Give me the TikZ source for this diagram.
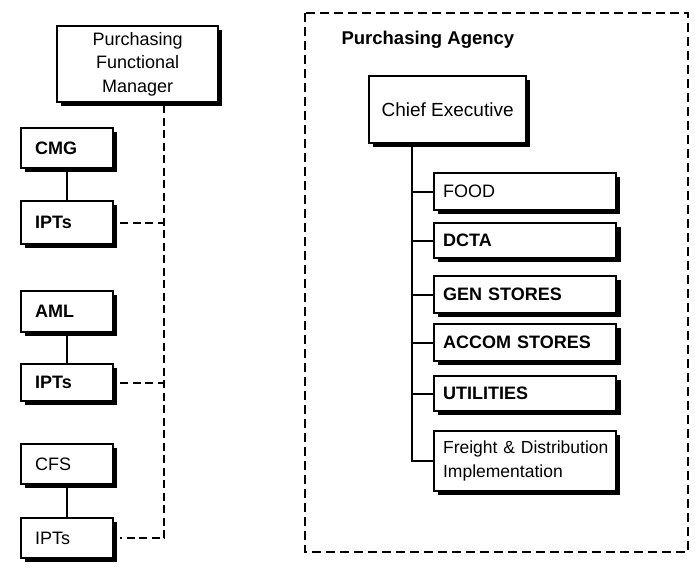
\documentclass[tikz,border=0pt]{standalone}
\usepackage{fontspec}
\setmainfont{Liberation Sans}
\usetikzlibrary{shadows}

\begin{document}
\begin{tikzpicture}[x=1pt,y=-1pt,
  font=\fontsize{18}{23.5}\selectfont,
  box/.style={draw, rectangle, line width=2.2pt, fill=white, anchor=north west,
    inner ysep=0pt,
    drop shadow={shadow xshift=3.5pt, shadow yshift=-3.5pt, fill=black, opacity=1}},
  heavybox/.style={box,
    drop shadow={shadow xshift=5pt, shadow yshift=-4pt, fill=black, opacity=1}},
  unitbox/.style={box, inner xsep=14pt, text width=64pt, align=left},
  listbox/.style={box, inner xsep=9pt, text width=164pt, align=left},
  link/.style={line width=1.8pt},
  dashlink/.style={line width=2pt, dash pattern=on 8pt off 4.5pt},
  frame/.style={line width=1.8pt, dash pattern=on 9pt off 5pt}
]
\useasboundingbox (0,0) rectangle (695,574);

% ---- functional side ----
\node[box, minimum width=161pt, minimum height=76pt, align=center, inner xsep=4pt]
  (pfm) at (56,25) {Purchasing\\Functional\\Manager};

\node[unitbox, minimum height=40pt, font=\fontsize{18}{22}\selectfont\bfseries] (cmg)  at (20,127) {CMG};
\node[unitbox, minimum height=43pt, font=\fontsize{18}{22}\selectfont\bfseries] (ipt1) at (20,200) {IPTs};
\node[unitbox, minimum height=41pt, font=\fontsize{18}{22}\selectfont\bfseries] (aml)  at (20,290) {AML};
\node[unitbox, minimum height=37pt, font=\fontsize{18}{22}\selectfont\bfseries] (ipt2) at (20,363) {IPTs};
\node[unitbox, minimum height=40pt] (cfs)  at (20,443) {CFS};
\node[unitbox, minimum height=40pt] (ipt3) at (20,517) {IPTs};

\draw[link] (cmg.south) -- (cmg.south |- ipt1.north);
\draw[link] (aml.south) -- (aml.south |- ipt2.north);
\draw[link] (cfs.south) -- (cfs.south |- ipt3.north);

\coordinate (tap) at ([xshift=26.5pt, yshift=-2pt]pfm.south);
\draw[dashlink] (tap) |- ([xshift=6pt]ipt3.east);
\draw[dashlink] ([xshift=6pt]ipt1.east) -- (ipt1.east -| tap);
\draw[dashlink] ([xshift=6pt]ipt2.east) -- (ipt2.east -| tap);

% ---- agency side ----
\draw[frame] (305,13) rectangle (688,552);
\node[anchor=west, font=\fontsize{18.5}{22}\selectfont\bfseries] (agency) at (338,40) {Purchasing Agency};

\node[box, minimum width=157pt, minimum height=67pt, font=\fontsize{19}{23}\selectfont]
  (ce) at (368,75) {Chief Executive};

\node[listbox,   minimum height=37pt] (food)  at (433,172) {FOOD};
\node[heavybox, listbox, minimum height=35pt, font=\fontsize{18}{22}\selectfont\bfseries] (dcta)  at (433,222) {DCTA};
\node[heavybox, listbox, minimum height=37pt, font=\fontsize{18}{22}\selectfont\bfseries] (gen)   at (433,275) {GEN STORES};
\node[heavybox, listbox, minimum height=37pt, font=\fontsize{18}{22}\selectfont\bfseries] (accom) at (433,323) {ACCOM STORES};
\node[heavybox, listbox, minimum height=35pt, font=\fontsize{18}{22}\selectfont\bfseries] (util)  at (433,375) {UTILITIES};
\node[listbox,   minimum height=60pt, font=\fontsize{17.5}{24.5}\selectfont] (freight) at (433,430)
  {\mbox{Freight \& Distribution}\\Implementation};

\coordinate (trunk) at ([xshift=44pt, yshift=-2pt]ce.south west);
\foreach \b in {food,dcta,gen,accom,util,freight}
  \draw[link] (\b.west) -| (trunk);
\end{tikzpicture}
\end{document}
